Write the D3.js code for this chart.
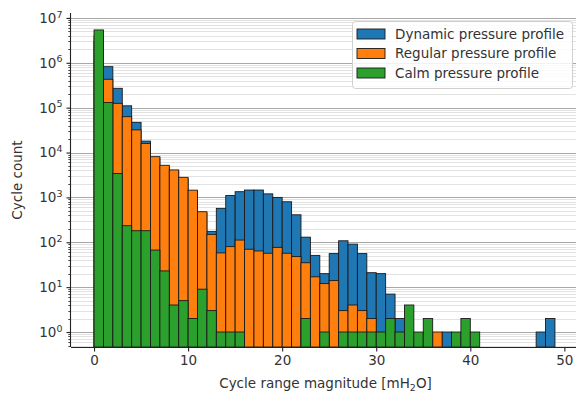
<!DOCTYPE html>
<html>
<head>
<meta charset="utf-8">
<script src="https://cdn.jsdelivr.net/npm/d3@7"></script>
<style>
  body { margin: 0; background: #fff; }
  svg { display: block; font-family: "DejaVu Sans", sans-serif; }
</style>
</head>
<body>
<svg id="chart" width="576" height="394"></svg>
<script>
// histogram bins: [i, i+1) for i = 0..48
var binStarts = d3.range(0, 49);

// cycle counts per bin (0 = empty bin)
var dynamicCounts = [3000000, 820000, 270000, 110000, 47000, 18000, 7500, 4800, 3800, 2600,
  1300, 450, 175, 570, 1100, 1340, 1460, 1460, 1200, 1000,
  800, 410, 130, 51, 20, 56, 108, 91, 56, 21,
  20, 7, 2, 0, 0, 0, 0, 1, 0, 0,
  0, 0, 0, 0, 0, 0, 0, 1, 2];

var regularCounts = [4000000, 430000, 125000, 63000, 32000, 16000, 8100, 5200, 4100, 2800,
  1450, 480, 150, 58, 80, 112, 70, 64, 57, 77,
  57, 48, 35, 17, 12, 14, 3, 4, 3, 2,
  0, 0, 0, 0, 0, 0, 1, 0, 0, 0,
  0, 0, 0, 0, 0, 0, 0, 0, 0];

var calmCounts = [5400000, 130000, 3400, 234, 181, 181, 67, 23, 4, 5,
  2, 9, 3, 1, 1, 1, 0, 0, 0, 0,
  0, 0, 2, 0, 1, 0, 1, 1, 1, 1,
  1, 2, 1, 4, 1, 2, 0, 0, 1, 2,
  1, 0, 0, 0, 0, 0, 0, 0, 0];

var seriesNames = ["Dynamic pressure profile", "Regular pressure profile", "Calm pressure profile"];
var seriesColors = ["#1f77b4", "#ff7f0e", "#2ca02c"];

var xTicks = [0, 10, 20, 30, 40, 50];
var yExponents = [0, 1, 2, 3, 4, 5, 6, 7];

var xLabel = "Cycle range magnitude [mH";
var yLabel = "Cycle count";

//###############################################
// layout
//###############################################
var svg = d3.select("#chart");
var margin = {left: 71, top: 13, bottom: 347, right: 578};

var x = d3.scaleLinear()
  .domain([-2.45, 51.45])
  .range([margin.left, margin.right]);

var y = d3.scaleLog()
  .domain([Math.pow(10, -0.334), Math.pow(10, 7.11)])
  .range([margin.bottom, margin.top]);

// grid
var minorVals = [];
yExponents.forEach(function(e) {
  d3.range(2, 10).forEach(function(m) { minorVals.push(m * Math.pow(10, e - 1)); });
});
minorVals = minorVals.filter(function(v) { return v >= y.domain()[0] && v <= y.domain()[1]; });

var grid = svg.append("g");
grid.selectAll(".minor").data(minorVals).enter().append("line")
  .attr("x1", margin.left).attr("x2", 576)
  .attr("y1", function(d) { return Math.round(y(d)) + 0.5; })
  .attr("y2", function(d) { return Math.round(y(d)) + 0.5; })
  .attr("stroke", "#e2e2e2").attr("stroke-width", 1);

grid.selectAll(".major").data(yExponents).enter().append("line")
  .attr("x1", margin.left).attr("x2", 576)
  .attr("y1", function(d) { return Math.round(y(Math.pow(10, d))) + 0.5; })
  .attr("y2", function(d) { return Math.round(y(Math.pow(10, d))) + 0.5; })
  .attr("stroke", "#a8a8a8").attr("stroke-width", 1.2);

// bars, drawn overlaid: dynamic behind, calm in front
var allSeries = [dynamicCounts, regularCounts, calmCounts];
allSeries.forEach(function(counts, si) {
  var data = binStarts.map(function(b, i) { return {b: b, v: counts[i]}; })
    .filter(function(d) { return d.v > 0; });
  svg.append("g").selectAll("rect").data(data).enter().append("rect")
    .attr("x", function(d) { return x(d.b); })
    .attr("width", function(d) { return x(d.b + 1) - x(d.b); })
    .attr("y", function(d) { return y(d.v); })
    .attr("height", function(d) { return margin.bottom - y(d.v); })
    .attr("fill", seriesColors[si])
    .attr("stroke", "#1a1a1a")
    .attr("stroke-width", 0.9);
});

// x axis
var xAxis = svg.append("g")
  .attr("transform", "translate(0," + margin.bottom + ")")
  .call(d3.axisBottom(x).tickValues(xTicks).tickSize(4.5).tickPadding(4).tickFormat(d3.format("d")));
xAxis.select(".domain").attr("stroke", "#222").attr("stroke-width", 1.1).attr("d", "M" + margin.left + ",0.5H576");
xAxis.selectAll(".tick line").attr("stroke", "#222").attr("stroke-width", 1.1);
xAxis.selectAll("text").attr("font-size", 13.5).attr("fill", "#333").attr("font-family", "DejaVu Sans");

// y axis minor ticks
svg.append("g").selectAll("line").data(minorVals).enter().append("line")
  .attr("x1", margin.left - 2.7).attr("x2", margin.left)
  .attr("y1", function(d) { return Math.round(y(d)) + 0.5; })
  .attr("y2", function(d) { return Math.round(y(d)) + 0.5; })
  .attr("stroke", "#222").attr("stroke-width", 0.8);

// y axis
var yAxis = svg.append("g")
  .attr("transform", "translate(" + margin.left + ",0)")
  .call(d3.axisLeft(y).tickValues(yExponents.map(function(e) { return Math.pow(10, e); }))
    .tickSize(4.5).tickPadding(4).tickFormat(""));
yAxis.select(".domain").attr("stroke", "#222").attr("stroke-width", 1.1)
  .attr("d", "M-0.5," + margin.bottom + "V" + margin.top);
yAxis.selectAll(".tick line").attr("stroke", "#222").attr("stroke-width", 1.1);
yAxis.selectAll(".tick").each(function(d) {
  var t = d3.select(this).append("text")
    .attr("x", -8.5).attr("dy", "0.32em")
    .attr("text-anchor", "end")
    .attr("font-size", 13.5).attr("fill", "#333")
    .attr("font-family", "DejaVu Sans");
  t.append("tspan").text("10");
  t.append("tspan").attr("font-size", 9.5).attr("dy", "-0.55em").text(Math.round(Math.log10(d)));
});

// axis labels
var xl = svg.append("text")
  .attr("x", (margin.left + margin.right) / 2 + 1).attr("y", 388)
  .attr("text-anchor", "middle").attr("font-size", 13.5).attr("fill", "#333");
xl.append("tspan").text(xLabel);
xl.append("tspan").attr("font-size", 9.5).attr("dy", "0.3em").text("2");
xl.append("tspan").attr("dy", "-0.2em").text("O]");

svg.append("text")
  .attr("transform", "translate(22," + ((margin.top + margin.bottom) / 2) + ") rotate(-90)")
  .attr("text-anchor", "middle").attr("font-size", 13.5).attr("fill", "#333")
  .text(yLabel);

// legend
var legend = svg.append("g").attr("transform", "translate(352,21)");
legend.append("rect")
  .attr("x", 0.5).attr("y", 0.5).attr("width", 220).attr("height", 67).attr("rx", 3)
  .attr("fill", "#fff").attr("fill-opacity", 0.85)
  .attr("stroke", "#d0d0d0").attr("stroke-width", 1);
seriesNames.forEach(function(name, i) {
  var g = legend.append("g").attr("transform", "translate(0," + (13 + i * 19.5) + ")");
  g.append("rect")
    .attr("x", 5).attr("y", -5).attr("width", 28).attr("height", 10)
    .attr("fill", seriesColors[i]).attr("stroke", "#1a1a1a").attr("stroke-width", 0.9);
  g.append("text")
    .attr("x", 43).attr("dy", "0.35em")
    .attr("font-size", 13.5).attr("fill", "#333")
    .text(name);
});
</script>
</body>
</html>
